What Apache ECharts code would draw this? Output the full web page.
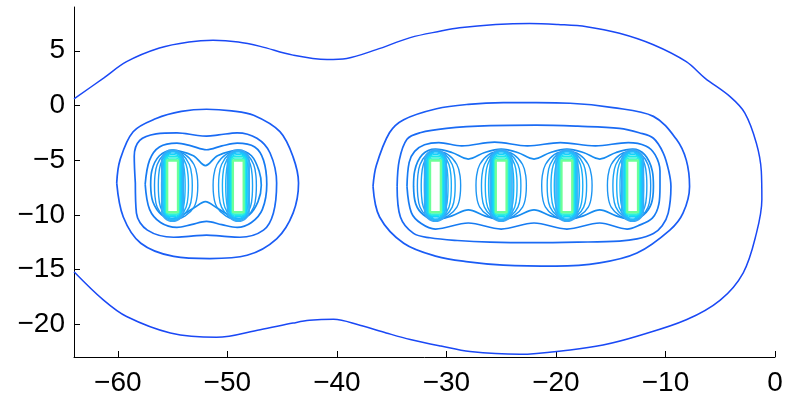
<!DOCTYPE html>
<html><head><meta charset="utf-8">
<script src="https://cdn.jsdelivr.net/npm/echarts@6/dist/echarts.min.js"></script>
<style>html,body{margin:0;padding:0;background:#fff}#c{width:787px;height:400px}</style>
</head><body><div id="c"></div>
<script>
// ---- tick labels ----
const xTicks = [-60, -50, -40, -30, -20, -10, 0];
const yTicks = [-20, -15, -10, -5, 0, 5];

// ---- conductors ----
const conductorX = [-55, -49, -31, -25, -19, -13];
// side that faces away from its group (-1 left, 1 right, 0 none)
const conductorOutward = [-1, 1, -1, 0, 0, 1];

// ---- contour lines: [x, y] ----
const contourL1 = [[-64,0.6],[-61.3,2.5],[-59.2,4.0],[-56.2,5.25],[-53.5,5.8],[-51.3,5.95],[-49,5.8],[-47,5.4],[-44,4.6],[-40.9,4.2],[-39.1,4.3],[-36.4,5.1],[-33.3,6.2],[-30.5,6.8],[-28.8,7.1],[-25.5,7.4],[-22.4,7.5],[-19.8,7.4],[-17.2,7.2],[-14.2,6.6],[-11.1,5.55],[-8.1,4.0],[-6.4,2.5],[-4.1,0.8],[-2.75,-0.7],[-1.7,-3.45],[-1.25,-6],[-1.2,-8.6],[-1.7,-11.7],[-2.9,-15.3],[-5.0,-17.8],[-8.1,-19.6],[-12.6,-21.1],[-15.7,-21.9],[-18.7,-22.35],[-23.3,-22.75],[-27.85,-22.5],[-30.5,-22.0],[-33.3,-21.4],[-35.5,-20.8],[-37.9,-20.1],[-40.3,-19.55],[-42.5,-19.65],[-44,-19.9],[-47,-20.5],[-51,-21.2],[-55.2,-20.8],[-59.2,-19.3],[-61.3,-17.8],[-64,-15.2]];

const contourL2a = [[-60.1,-7.1],[-59.8,-5.0],[-58.6,-2.4],[-56.5,-1.2],[-54.2,-0.55],[-51.9,-0.35],[-49.6,-0.5],[-47.6,-0.9],[-45.2,-2.4],[-44,-4.7],[-43.5,-7.1],[-44,-9.85],[-45.5,-12.2],[-48.2,-13.7],[-51.6,-14.0],[-54.9,-13.8],[-57.9,-12.6],[-59.5,-10.2],[-60.1,-7.1]];
const contourL2b = [[-36.7,-7.4],[-36.4,-5.5],[-35.2,-2.5],[-33.9,-1.3],[-30.9,-0.3],[-28,0.1],[-24.8,0.25],[-21.8,0.25],[-18.7,0.2],[-14.8,-0.2],[-11.1,-1.0],[-9.0,-3.1],[-8.1,-5.0],[-7.8,-7.4],[-8.4,-9.85],[-9.6,-11.4],[-12.6,-13.5],[-16,-14.4],[-20,-14.7],[-24.8,-14.6],[-28,-14.3],[-30.9,-13.8],[-33.9,-12.6],[-36.1,-10.2],[-36.7,-7.4]];

const contourL3a = [[-58.4,-7.1],[-58.5,-4.65],[-58.0,-3.2],[-56.5,-2.6],[-54.6,-2.5],[-52.7,-2.75],[-51.9,-2.8],[-50.8,-2.7],[-49.1,-2.5],[-47.3,-3.0],[-46.1,-4.35],[-45.5,-7.1],[-45.8,-9.85],[-46.7,-11.4],[-48.85,-12.05],[-50.5,-11.95],[-51.9,-11.85],[-53.3,-11.95],[-54.9,-12.05],[-57.3,-11.4],[-58.3,-9.85],[-58.4,-7.1]];
const contourL3b = [[-34.5,-7.4],[-34.3,-5],[-33.6,-3.1],[-32.4,-2.5],[-30,-2.1],[-26,-1.85],[-21.8,-1.8],[-18,-1.9],[-14.2,-2.1],[-12.4,-2.5],[-11.1,-3.0],[-10.2,-4.35],[-9.7,-6],[-9.5,-7.4],[-9.75,-9.85],[-10.3,-11],[-11.1,-11.7],[-12.6,-12.2],[-14.2,-12.4],[-18,-12.5],[-22,-12.55],[-26,-12.5],[-29,-12.35],[-31.5,-12.1],[-33,-11.7],[-34.2,-10.2],[-34.5,-7.4]];

const contourL4a = [[-57.5,-7.2],[-57.1,-5],[-56.2,-3.8],[-54.6,-3.45],[-53.3,-3.7],[-51.9,-4.05],[-50.5,-3.7],[-49.1,-3.45],[-47.5,-3.8],[-46.7,-5],[-46.4,-7.2],[-46.8,-9.5],[-47.8,-10.7],[-49.1,-11.15],[-50.5,-10.9],[-51.9,-10.6],[-53.3,-10.9],[-54.6,-11.15],[-56.1,-10.7],[-57.1,-9.5],[-57.5,-7.2]];
const contourL4b = [[-33.6,-7.4],[-33.4,-5.2],[-32.9,-4.2],[-32,-3.6],[-30.7,-3.4],[-28.6,-3.7],[-25.6,-3.35],[-22.6,-3.7],[-19.6,-3.4],[-16.4,-3.7],[-13.4,-3.4],[-11.8,-3.7],[-10.95,-4.5],[-10.5,-6],[-10.5,-7.4],[-10.6,-9],[-11.2,-10.3],[-12.5,-11.0],[-13.5,-11.3],[-16,-10.75],[-19,-11.3],[-22,-10.75],[-25,-11.3],[-28,-10.75],[-31,-11.3],[-32.3,-10.8],[-33.2,-9.8],[-33.6,-7.4]];

const contourL5a = [[-57,-7.3],[-56.9,-6],[-56.2,-4.6],[-55,-4.1],[-53.1,-4.6],[-52,-5.5],[-50.9,-4.6],[-49,-4.1],[-47.8,-4.6],[-47.1,-6],[-46.9,-7.3],[-47.2,-8.8],[-48,-10],[-49,-10.35],[-50.9,-9.4],[-52,-8.8],[-53.1,-9.4],[-55,-10.35],[-56,-10],[-56.8,-8.8],[-57,-7.3]];
const contourL5b = [[-33,-7.4],[-32.9,-6],[-32.2,-4.5],[-31,-4.0],[-29.5,-4.3],[-28,-4.9],[-26.5,-4.3],[-25,-4.0],[-23.5,-4.3],[-22,-4.9],[-20.5,-4.3],[-19,-4.0],[-17.5,-4.3],[-16,-4.9],[-14.5,-4.3],[-13,-4.0],[-11.9,-4.5],[-11.2,-6],[-11.1,-7.4],[-11.3,-9],[-12,-10],[-13,-10.45],[-14.5,-10.1],[-16,-9.55],[-17.5,-10.1],[-19,-10.45],[-20.5,-10.1],[-22,-9.55],[-23.5,-10.1],[-25,-10.45],[-26.5,-10.1],[-28,-9.55],[-29.5,-10.1],[-31,-10.45],[-32.1,-10],[-32.8,-9],[-33,-7.4]];

// lens-shaped loops around each conductor (profile)
const lensProfileY = [-4.1, -4.5, -5.4, -6.5, -7.3, -8.2, -9.3, -10.1, -10.5];
const lensProfileX = [0, 0.5, 0.85, 0.98, 1, 0.98, 0.85, 0.5, 0];
const lensInnerHalfWidth = [2.3, 1.8, 1.45, 1.15];
const lensOuterHalfWidth = [1.65, 1.3, 1.0, 0.78];

// dense rings hugging each conductor: half width, top, bottom
const bandHalfWidth = [1.0, 0.9, 0.8, 0.72, 0.64, 0.58, 0.53, 0.48];
const bandTop = [-4.05, -4.2, -4.35, -4.5, -4.65, -4.8, -4.95, -5.05];
const bandBottom = [-10.6, -10.45, -10.3, -10.15, -10.05, -9.95, -9.85, -9.75];

// ---- styles ----
const levelColors = ['#1a48f5', '#1a5cf5', '#1a6af4', '#167bf2', '#168bf0'];
const lensColors = ['#1d95f2', '#1ba1f5', '#19adf8', '#17b8fb'];
const bandColors = ['#3aa8f5', '#2ab6fb', '#1cc6fd', '#14d6f8', '#1ce6ec', '#30f0d8', '#50fab8', '#6cff98'];
const bandRadius = [1, 0.95, 0.85, 0.75, 0.6, 0.45, 0.3, 0];

function lineSeries(data, color, width) {
  return { type: 'line', data: data, symbol: 'none', smooth: 0.35, silent: true,
    lineStyle: { color: color, width: width }, z: 2 };
}

const series = [];
series.push(lineSeries(contourL1, levelColors[0], 1.5));
[[contourL2a, contourL2b], [contourL3a, contourL3b], [contourL4a, contourL4b], [contourL5a, contourL5b]].forEach((pair, i) => {
  pair.forEach(d => series.push(lineSeries(d, levelColors[i + 1], 1.7)));
});

conductorX.forEach((cx, ci) => {
  const out = conductorOutward[ci];
  lensInnerHalfWidth.forEach((wIn, k) => {
    const wR = out === 1 ? lensOuterHalfWidth[k] : wIn;
    const wL = out === -1 ? lensOuterHalfWidth[k] : wIn;
    const pts = [];
    for (let i = 0; i < lensProfileY.length; i++) pts.push([cx + wR * lensProfileX[i], lensProfileY[i]]);
    for (let i = lensProfileY.length - 2; i >= 0; i--) pts.push([cx - wL * lensProfileX[i], lensProfileY[i]]);
    series.push(Object.assign(lineSeries(pts, lensColors[k], 1.4), { smooth: 0.4 }));
  });
});

const bandData = [];
conductorX.forEach(cx => {
  bandHalfWidth.forEach((hw, k) => bandData.push([cx, hw, bandTop[k], bandBottom[k], k]));
});
series.push({
  type: 'custom', silent: true, z: 3,
  data: bandData,
  encode: { x: 0, y: 2 },
  renderItem: function (params, api) {
    const cx = api.value(0), hw = api.value(1), top = api.value(2), bot = api.value(3), k = api.value(4);
    const p1 = api.coord([cx - hw, top]);
    const p2 = api.coord([cx + hw, bot]);
    const w = p2[0] - p1[0], h = p2[1] - p1[1];
    return { type: 'rect',
      shape: { x: p1[0], y: p1[1], width: w, height: h, r: (w / 2) * bandRadius[k] },
      style: { fill: 'transparent', stroke: bandColors[k], lineWidth: k === bandHalfWidth.length - 1 ? 2 : 1.4 } };
  }
});

const fmt = v => String(v).replace('-', '\u2212');
const chart = echarts.init(document.getElementById('c'));
chart.setOption({
  animation: false,
  backgroundColor: '#fff',
  grid: { left: 74, right: 12, top: 7, bottom: 43 },
  xAxis: { type: 'value', min: -64, max: 0,
    axisLine: { show: true, onZero: false, lineStyle: { color: '#000', width: 1 } },
    axisTick: { show: true, inside: true, length: 6, customValues: xTicks, lineStyle: { color: '#000' } },
    axisLabel: { customValues: xTicks, formatter: fmt, fontSize: 28, color: '#000', margin: 12 },
    splitLine: { show: false } },
  yAxis: { type: 'value', min: -23, max: 9,
    axisLine: { show: true, onZero: false, lineStyle: { color: '#000', width: 1 } },
    axisTick: { show: true, inside: true, length: 6, customValues: yTicks, lineStyle: { color: '#000' } },
    axisLabel: { customValues: yTicks, formatter: fmt, fontSize: 28, color: '#000', margin: 9 },
    splitLine: { show: false } },
  series: series
});
</script></body></html>
